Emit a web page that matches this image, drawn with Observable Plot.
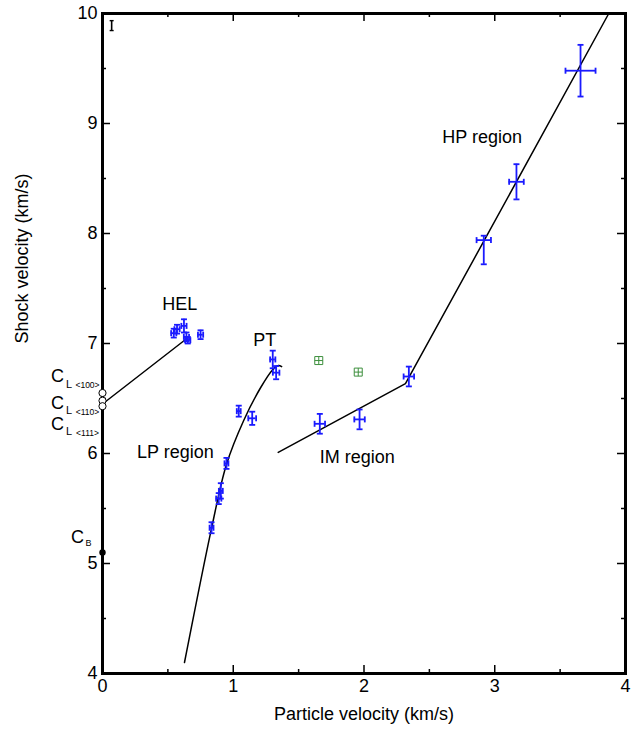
<!DOCTYPE html>
<html><head><meta charset="utf-8">
<script src="https://cdn.jsdelivr.net/npm/d3@7"></script>
<script src="https://cdn.jsdelivr.net/npm/@observablehq/plot@0.6"></script>
<style>body{margin:0;background:#fff} svg{display:block}</style>
</head><body><div id="chart"></div>
<script>
// measured points (blue, with error bars)
const ptX    = [0.545, 0.57, 0.623, 0.642, 0.652, 0.75, 0.834, 0.889, 0.905, 0.948, 1.042, 1.145, 1.302, 1.328, 1.662, 1.966, 2.343, 2.916, 3.166, 3.656];
const ptY    = [7.094, 7.13, 7.16, 7.06, 7.03, 7.08, 5.325, 5.59, 5.66, 5.91, 6.385, 6.32, 6.855, 6.735, 6.27, 6.31, 6.70, 7.94, 8.47, 9.48];
const ptXErr = [0.02, 0.02, 0.02, 0.02, 0.02, 0.02, 0.015, 0.02, 0.015, 0.015, 0.015, 0.03, 0.02, 0.025, 0.04, 0.04, 0.04, 0.055, 0.056, 0.115];
const ptYLo  = [0.04, 0.04, 0.06, 0.04, 0.03, 0.04, 0.05, 0.05, 0.07, 0.05, 0.05, 0.06, 0.08, 0.06, 0.09, 0.09, 0.09, 0.22, 0.16, 0.235];
const ptYHi  = [0.04, 0.04, 0.06, 0.04, 0.03, 0.04, 0.05, 0.05, 0.07, 0.05, 0.05, 0.06, 0.08, 0.06, 0.09, 0.09, 0.09, 0.04, 0.16, 0.235];

// green points
const greenX = [1.654, 1.956];
const greenY = [6.845, 6.74];

// straight fitted segments (segment id, x, y)
const straightSeg = ["HEL", "HEL", "IMHP", "IMHP", "IMHP", "IMHP"];
const straightX   = [0, 0.65, 1.344, 2.317, 2.93, 3.872];
const straightY   = [6.45, 7.05, 6.01, 6.636, 7.96, 10.0];
// curved LP fit
const lpX = [0.627, 0.834, 0.948, 1.08, 1.21, 1.30, 1.345, 1.37];
const lpY = [4.10, 5.32, 5.90, 6.30, 6.60, 6.76, 6.80, 6.79];

// longitudinal sound speeds (open) and bulk sound speed (filled)
const cLY = [6.55, 6.48, 6.43];
const cLSub = ["<100>", "<110>", "<111>"];
const cLLabelY = [6.70, 6.46, 6.27];
const cBY = 5.10;
const cBLabelY = 5.24;

// annotations
const annoText = ["HEL", "PT", "LP region", "IM region", "HP region"];
const annoX = [0.59, 1.241, 0.558, 1.948, 2.904];
const annoY = [7.36, 7.034, 6.01, 5.966, 8.875];

// ticks
const xMajor = [0, 1, 2, 3, 4];
const xMinor = [0.5, 1.5, 2.5, 3.5];
const yMajor = [4, 5, 6, 7, 8, 9, 10];
const yMinor = [4.5, 5.5, 6.5, 7.5, 8.5, 9.5];

const pts = ptX.map((x, i) => ({x, y: ptY[i], xe: ptXErr[i], lo: ptYLo[i], hi: ptYHi[i]}));
const greens = greenX.map((x, i) => ({x, y: greenY[i]}));
const straight = straightX.map((x, i) => ({seg: straightSeg[i], x, y: straightY[i]}));
const lp = lpX.map((x, i) => ({x, y: lpY[i]}));
const annos = annoText.map((t, i) => ({t, x: annoX[i], y: annoY[i]}));
const cL = cLY.map((y, i) => ({y, ly: cLLabelY[i], sub: cLSub[i]}));
const scaleBar = [{x: 0.07, y: 9.89, lo: 0.045, hi: 0.045}];

const capH = {draw(ctx, size) { const r = Math.sqrt(size / Math.PI); ctx.moveTo(-r, 0); ctx.lineTo(r, 0); }};
const capV = {draw(ctx, size) { const r = Math.sqrt(size / Math.PI); ctx.moveTo(0, -r); ctx.lineTo(0, r); }};
const boxPlus = {draw(ctx, size) { const r = Math.sqrt(size / Math.PI);
  ctx.rect(-r, -r, 2 * r, 2 * r); ctx.moveTo(-r, 0); ctx.lineTo(r, 0); ctx.moveTo(0, -r); ctx.lineTo(0, r); }};

const W = 634, H = 738, mL = 102, mR = 9, mT = 13, mB = 65;
const iw = W - mL - mR, ih = H - mT - mB;
const blue = "#1a1aff", green = "#3d8f3d";
const MAJ = 8, MIN = 4;
const FS = 18;

const chart = Plot.plot({
  width: W, height: H,
  marginLeft: mL, marginRight: mR, marginTop: mT, marginBottom: mB,
  style: {fontFamily: "'Liberation Sans', Arial, Helvetica, sans-serif", fontSize: FS + "px", background: "#fff", color: "#000"},
  x: {domain: [0, 4], label: null},
  y: {domain: [4, 10], label: null},
  marks: [
    Plot.axisX({ticks: xMajor, tickFormat: d3.format("d"), tickSize: 0, tickPadding: 6, label: null, fontSize: FS}),
    Plot.axisY({ticks: yMajor, tickFormat: d3.format("d"), tickSize: 0, tickPadding: 5, label: null, fontSize: FS}),
    // inward ticks on all four sides
    Plot.tickX(xMajor, {x: d => d, insetTop: ih - MAJ, strokeWidth: 1.5}),
    Plot.tickX(xMinor, {x: d => d, insetTop: ih - MIN, strokeWidth: 1.5}),
    Plot.tickX(xMajor, {x: d => d, insetBottom: ih - MAJ, strokeWidth: 1.5}),
    Plot.tickX(xMinor, {x: d => d, insetBottom: ih - MIN, strokeWidth: 1.5}),
    Plot.tickY(yMajor, {y: d => d, insetRight: iw - MAJ, strokeWidth: 1.5}),
    Plot.tickY(yMinor, {y: d => d, insetRight: iw - MIN, strokeWidth: 1.5}),
    Plot.tickY(yMajor, {y: d => d, insetLeft: iw - MAJ, strokeWidth: 1.5}),
    Plot.tickY(yMinor, {y: d => d, insetLeft: iw - MIN, strokeWidth: 1.5}),
    // fitted lines
    Plot.line(straight, {x: "x", y: "y", z: "seg", stroke: "#000", strokeWidth: 1.5}),
    Plot.line(lp, {x: "x", y: "y", curve: "catmull-rom", stroke: "#000", strokeWidth: 1.5}),
    // error bars
    Plot.ruleX(pts, {x: "x", y1: d => d.y - d.lo, y2: d => d.y + d.hi, stroke: blue, strokeWidth: 1.8}),
    Plot.ruleY(pts, {y: "y", x1: d => d.x - d.xe, x2: d => d.x + d.xe, stroke: blue, strokeWidth: 1.8}),
    Plot.dot(pts, {x: "x", y: d => d.y + d.hi, symbol: capH, r: 3, fill: "none", stroke: blue, strokeWidth: 1.8}),
    Plot.dot(pts, {x: "x", y: d => d.y - d.lo, symbol: capH, r: 3, fill: "none", stroke: blue, strokeWidth: 1.8}),
    Plot.dot(pts, {x: d => d.x - d.xe, y: "y", symbol: capV, r: 3, fill: "none", stroke: blue, strokeWidth: 1.8}),
    Plot.dot(pts, {x: d => d.x + d.xe, y: "y", symbol: capV, r: 3, fill: "none", stroke: blue, strokeWidth: 1.8}),
    // small scale bar near top-left
    Plot.ruleX(scaleBar, {x: "x", y1: d => d.y - d.lo, y2: d => d.y + d.hi, stroke: "#000", strokeWidth: 1.6}),
    Plot.dot(scaleBar, {x: "x", y: d => d.y + d.hi, symbol: capH, r: 2, fill: "none", stroke: "#000", strokeWidth: 1.4}),
    Plot.dot(scaleBar, {x: "x", y: d => d.y - d.lo, symbol: capH, r: 2, fill: "none", stroke: "#000", strokeWidth: 1.4}),
    // green points
    Plot.dot(greens, {x: "x", y: "y", symbol: boxPlus, r: 4, fill: "none", stroke: green, strokeWidth: 1}),
    // annotations
    Plot.text(annos, {x: "x", y: "y", text: "t", fontSize: FS, fill: "#000"}),
    // C_L labels
    Plot.text(cL, {x: () => 0, y: "ly", text: () => "C", dx: -45, fontSize: FS}),
    Plot.text(cL, {x: () => 0, y: "ly", text: () => "L", dx: -33.5, dy: 8, fontSize: 11}),
    Plot.text(cL, {x: () => 0, y: "ly", text: "sub", dx: -15, dy: 9, fontSize: 8.5}),
    // C_B label
    Plot.text([cBLabelY], {x: () => 0, y: d => d, text: () => "C", dx: -25, fontSize: FS}),
    Plot.text([cBLabelY], {x: () => 0, y: d => d, text: () => "B", dx: -14, dy: 6, fontSize: 9}),
    Plot.frame({stroke: "#000", strokeWidth: 3}),
    // sound-speed markers on the axis
    Plot.dot(cL, {x: () => 0, y: "y", r: 3.6, fill: "#fff", stroke: "#000", strokeWidth: 1}),
    Plot.dot([cBY], {x: () => 0, y: d => d, r: 3.2, fill: "#000"}),
    // axis titles
    Plot.text(["Particle velocity (km/s)"], {frameAnchor: "bottom", dy: 46, fontSize: FS}),
    Plot.text(["Shock velocity (km/s)"], {frameAnchor: "left", rotate: -90, dx: -80, fontSize: FS})
  ]
});
document.getElementById("chart").appendChild(chart);
</script>
</body></html>
